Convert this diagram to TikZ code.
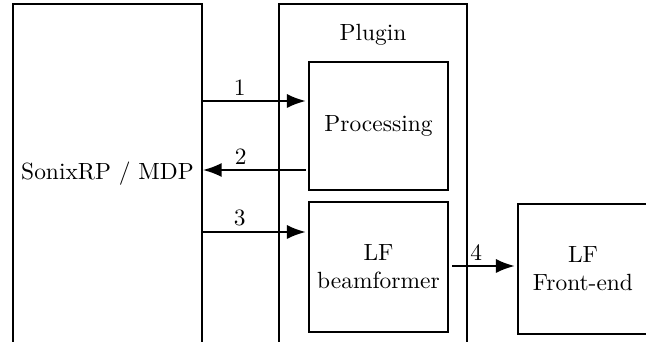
\documentclass[tikz,border=0pt]{standalone}
\usetikzlibrary{arrows.meta,positioning}

\begin{document}
\begin{tikzpicture}[x=0.015cm,y=-0.015cm,
  blk/.style={draw,line width=0.8pt,align=center,inner sep=0pt},
  arr/.style={-{Latex[length=8pt,width=6pt]},line width=0.8pt}]
  \useasboundingbox (0,0) rectangle (646,342);
  \clip (0,0) rectangle (646,342);
  \node[blk,minimum width=2.835cm,minimum height=5.1cm] (host) at (107.5,174) {SonixRP / MDP};
  \node[blk,minimum width=2.82cm,minimum height=5.1cm] (plugin) at (373,174) {};
  \node[below=5.5pt of plugin.north] (plugtitle) {Plugin};
  \node[blk,minimum width=2.085cm,minimum height=1.92cm] (proc) at (378.5,126) {Processing};
  \node[blk,minimum width=2.085cm,minimum height=1.95cm] (lfbf) at (378.5,267) {LF\\beamformer};
  \node[blk,minimum width=1.95cm,minimum height=1.95cm] (lffe) at (583,269) {LF\\Front-end};
  \draw[arr,shorten >=1pt] (host.east |- 0,101) -- node[above,pos=0.35,inner sep=2pt] {1} (proc.west |- 0,101);
  \draw[arr,shorten <=1pt] (proc.west |- 0,170) -- node[above,pos=0.64,inner sep=2pt] {2} (host.east |- 0,170);
  \draw[arr,shorten >=1pt] (host.east |- 0,232) -- node[above,pos=0.35,inner sep=2pt] {3} (lfbf.west |- 0,232);
  \draw[arr,shorten <=1.5pt,shorten >=1pt] (lfbf.east |- 0,266) -- node[above,pos=0.4,inner sep=2pt] {4} (lffe.west |- 0,266);
\end{tikzpicture}
\end{document}
